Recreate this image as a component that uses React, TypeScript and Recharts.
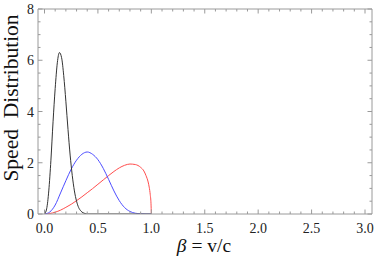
import React from 'react';
import { LineChart, Line, XAxis, YAxis } from 'recharts';

const betaBlack = [0, 0.02, 0.04, 0.06, 0.08, 0.1, 0.12, 0.14, 0.16, 0.18, 0.2, 0.22, 0.24, 0.26, 0.28, 0.3, 0.32, 0.34, 0.36, 0.38, 0.4, 0.5, 0.6, 0.7, 0.8, 0.9, 1.0];
const speedBlack = [0, 0.2, 0.9, 2.1, 3.6, 4.9, 5.9, 6.3, 6.1, 5.4, 4.4, 3.3, 2.3, 1.5, 0.9, 0.5, 0.25, 0.12, 0.05, 0.02, 0, 0, 0, 0, 0, 0, 0];

const betaBlue = [0, 0.05, 0.1, 0.15, 0.2, 0.25, 0.3, 0.35, 0.4, 0.45, 0.5, 0.55, 0.6, 0.65, 0.7, 0.75, 0.8, 0.85, 0.9, 0.95, 1.0];
const speedBlue = [0, 0.08, 0.35, 0.82, 1.3, 1.75, 2.1, 2.33, 2.42, 2.33, 2.12, 1.78, 1.35, 0.9, 0.52, 0.25, 0.1, 0.03, 0.01, 0, 0];

const betaRed = [0, 0.05, 0.1, 0.15, 0.2, 0.25, 0.3, 0.35, 0.4, 0.45, 0.5, 0.55, 0.6, 0.65, 0.7, 0.75, 0.8, 0.85, 0.9, 0.93, 0.95, 0.97, 0.98, 0.99, 0.997, 1.0];
const speedRed = [0, 0.02, 0.07, 0.15, 0.26, 0.38, 0.52, 0.67, 0.83, 0.99, 1.16, 1.33, 1.5, 1.66, 1.8, 1.9, 1.95, 1.93, 1.82, 1.68, 1.5, 1.25, 1.05, 0.75, 0.4, 0];

const xTicks = [0, 0.1, 0.2, 0.3, 0.4, 0.5, 0.6, 0.7, 0.8, 0.9, 1.0, 1.1, 1.2, 1.3, 1.4, 1.5, 1.6, 1.7, 1.8, 1.9, 2.0, 2.1, 2.2, 2.3, 2.4, 2.5, 2.6, 2.7, 2.8, 2.9, 3.0];
const yTicks = [0, 0.5, 1, 1.5, 2, 2.5, 3, 3.5, 4, 4.5, 5, 5.5, 6, 6.5, 7, 7.5, 8];

const FRAME = '#9a9a9a';
const FONT = '"Liberation Serif", "DejaVu Serif", serif';

const zip = (xs: number[], ys: number[]) => xs.map((x, i) => ({ x, y: ys[i] }));
const blackData = zip(betaBlack, speedBlack);
const blueData = zip(betaBlue, speedBlue);
const redData = zip(betaRed, speedRed);

const isMajorX = (v: number) => Math.abs(v * 2 - Math.round(v * 2)) < 1e-6;
const isMajorY = (v: number) => Math.abs(v / 2 - Math.round(v / 2)) < 1e-6;

const BottomTick = (props: any) => {
  const { x, y, payload } = props;
  const v = payload.value as number;
  const major = isMajorX(v);
  return (
    <g>
      <line x1={x} x2={x} y1={y} y2={y - (major ? 4.5 : 2.5)} stroke={FRAME} strokeWidth={1} />
      {major && (
        <text x={x} y={y + 19} textAnchor="middle" fontSize={14} fontFamily={FONT} style={{ fontFamily: FONT }} fill="#222">
          {v.toFixed(1)}
        </text>
      )}
    </g>
  );
};

const TopTick = (props: any) => {
  const { x, y, payload } = props;
  const major = isMajorX(payload.value as number);
  return <line x1={x} x2={x} y1={y} y2={y + (major ? 4.5 : 2.5)} stroke={FRAME} strokeWidth={1} />;
};

const LeftTick = (props: any) => {
  const { x, y, payload } = props;
  const v = payload.value as number;
  const major = isMajorY(v);
  return (
    <g>
      <line x1={x} x2={x + (major ? 4.5 : 2.5)} y1={y} y2={y} stroke={FRAME} strokeWidth={1} />
      {major && (
        <text x={x - 4} y={y + 5} textAnchor="end" fontSize={14} fontFamily={FONT} style={{ fontFamily: FONT }} fill="#222">
          {String(v)}
        </text>
      )}
    </g>
  );
};

const RightTick = (props: any) => {
  const { x, y, payload } = props;
  const major = isMajorY(payload.value as number);
  return <line x1={x} x2={x - (major ? 4.5 : 2.5)} y1={y} y2={y} stroke={FRAME} strokeWidth={1} />;
};

export default function App() {
  return (
    <div style={{ position: 'absolute', left: 0, top: 0, width: 374, height: 258, background: '#fff' }}>
      <LineChart width={374} height={258} margin={{ top: 8, right: 1, bottom: 14, left: 8 }}>
        <XAxis
          xAxisId="b"
          type="number"
          dataKey="x"
          domain={[0, 3]}
          ticks={xTicks}
          interval={0}
          padding={{ left: 6.5, right: 7 }}
          height={30}
          tickSize={0}
          tickMargin={0}
          tickLine={false}
          axisLine={{ stroke: FRAME }}
          tick={BottomTick}
          allowDataOverflow
        />
        <XAxis
          xAxisId="t"
          orientation="top"
          type="number"
          dataKey="x"
          domain={[0, 3]}
          ticks={xTicks}
          interval={0}
          padding={{ left: 6.5, right: 7 }}
          height={1}
          tickSize={0}
          tickMargin={0}
          tickLine={false}
          axisLine={{ stroke: FRAME }}
          tick={TopTick}
          allowDataOverflow
        />
        <YAxis
          yAxisId="l"
          type="number"
          domain={[0, 8]}
          ticks={yTicks}
          interval={0}
          width={30}
          tickSize={0}
          tickMargin={0}
          tickLine={false}
          axisLine={{ stroke: FRAME }}
          tick={LeftTick}
          allowDataOverflow
        />
        <YAxis
          yAxisId="r"
          orientation="right"
          type="number"
          domain={[0, 8]}
          ticks={yTicks}
          interval={0}
          width={1}
          tickSize={0}
          tickMargin={0}
          tickLine={false}
          axisLine={{ stroke: FRAME }}
          tick={RightTick}
          allowDataOverflow
        />
        <Line xAxisId="b" yAxisId="l" data={redData} dataKey="y" type="monotone" stroke="#ff4d4d" strokeWidth={1} dot={false} isAnimationActive={false} />
        <Line xAxisId="b" yAxisId="l" data={blueData} dataKey="y" type="monotone" stroke="#4d4dff" strokeWidth={1} dot={false} isAnimationActive={false} />
        <Line xAxisId="b" yAxisId="l" data={blackData} dataKey="y" type="monotone" stroke="#333333" strokeWidth={1} dot={false} isAnimationActive={false} />
      </LineChart>
      <svg width={374} height={258} style={{ position: 'absolute', left: 0, top: 0, pointerEvents: 'none', fontFamily: FONT }}>
        <text
          transform="rotate(-90)"
          x={-98}
          y={11}
          textAnchor="middle"
          dominantBaseline="central"
          fontSize={21.5}
          fontFamily={FONT}
          fill="#111"
        >
          {'Speed\u00A0 Distribution'}
        </text>
        <text x={204} y={252} textAnchor="middle" fontSize={19.5} fontFamily={FONT} fill="#111">
          <tspan fontStyle="italic">β</tspan>
          {' = v/c'}
        </text>
      </svg>
    </div>
  );
}
